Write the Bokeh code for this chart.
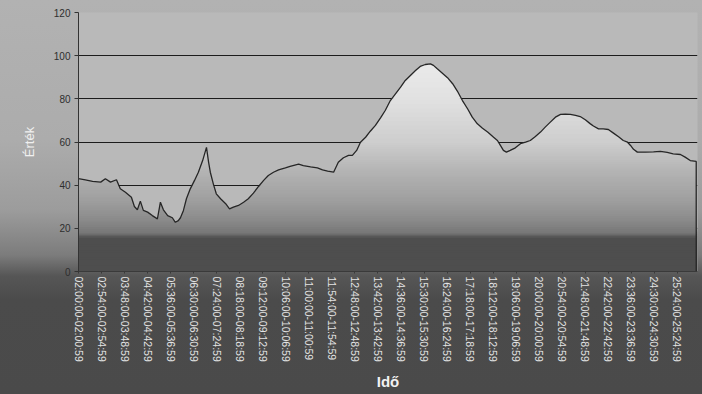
import numpy as np
from bokeh.plotting import figure
from bokeh.models import (Range1d, FixedTicker, BoxAnnotation, InlineStyleSheet)
from bokeh.embed import file_html
from bokeh.resources import INLINE

# Minutes elapsed since 02:00:00 and the measured value at that moment
minutes = [0, 16, 33, 52, 63, 75, 89, 98, 110, 124, 131, 138, 145, 152, 162, 173,
           185, 192, 199, 209, 220, 227, 234, 239, 246, 253, 262, 272, 281, 291,
           300, 305, 309, 316, 323, 333, 345, 354, 363, 375, 387, 398, 410, 422,
           434, 445, 457, 469, 485, 496, 516, 527, 544, 560, 572, 584, 598, 609,
           621, 633, 642, 652, 661, 673, 684, 696, 708, 719, 731, 743, 755, 766,
           778, 790, 801, 813, 825, 832, 841, 853, 865, 877, 888, 900, 912, 923,
           935, 947, 959, 973, 982, 989, 996, 1003, 1012, 1024, 1036, 1048, 1059,
           1071, 1083, 1094, 1106, 1118, 1130, 1141, 1153, 1165, 1176, 1188, 1200,
           1207, 1219, 1230, 1242, 1254, 1266, 1277, 1287, 1294, 1301, 1310, 1329,
           1348, 1364, 1380, 1394, 1411, 1422, 1434, 1448]
values = [43.0, 42.5, 41.8, 41.4, 43.0, 41.4, 42.5, 38.3, 36.7, 34.4, 30.1, 28.6,
          32.6, 28.3, 27.5, 25.9, 24.4, 32.1, 28.6, 25.9, 24.9, 22.8, 23.6, 24.9,
          28.3, 33.7, 38.3, 42.2, 46.0, 51.4, 57.5, 50.6, 46.0, 40.6, 36.0, 33.7,
          31.4, 29.0, 29.8, 30.6, 32.1, 33.7, 36.3, 39.4, 42.2, 44.5, 46.0, 47.1,
          48.0, 48.7, 49.8, 49.1, 48.5, 48.0, 47.1, 46.5, 46.0, 50.6, 52.7, 53.8,
          53.8, 56.1, 59.9, 62.2, 65.0, 67.7, 71.2, 74.6, 79.2, 82.3, 85.4, 88.5,
          90.8, 93.1, 95.0, 95.9, 96.2, 95.5, 93.9, 91.9, 89.8, 87.0, 83.6, 79.2,
          75.4, 71.5, 68.4, 66.4, 64.6, 62.2, 60.7, 58.4, 56.1, 55.3, 56.1, 57.3,
          59.2, 59.9, 60.7, 62.6, 64.6, 66.9, 69.2, 71.5, 72.8, 72.9, 72.8, 72.3,
          71.8, 70.3, 68.4, 67.4, 66.1, 66.1, 65.8, 64.1, 62.4, 60.7, 59.9, 58.4,
          56.6, 55.3, 55.3, 55.4, 55.7, 55.2, 54.5, 54.2, 53.0, 51.4, 51.0]

# Category labels, one every 54 minutes
tick_minutes = list(range(0, 1405, 54))
tick_labels = ["02:00:00-02:00:59", "02:54:00-02:54:59", "03:48:00-03:48:59",
               "04:42:00-04:42:59", "05:36:00-05:36:59", "06:30:00-06:30:59",
               "07:24:00-07:24:59", "08:18:00-08:18:59", "09:12:00-09:12:59",
               "10:06:00-10:06:59", "11:00:00-11:00:59", "11:54:00-11:54:59",
               "12:48:00-12:48:59", "13:42:00-13:42:59", "14:36:00-14:36:59",
               "15:30:00-15:30:59", "16:24:00-16:24:59", "17:18:00-17:18:59",
               "18:12:00-18:12:59", "19:06:00-19:06:59", "20:00:00-20:00:59",
               "20:54:00-20:54:59", "21:48:00-21:48:59", "22:42:00-22:42:59",
               "23:36:00-23:36:59", "24:30:00-24:30:59", "25:24:00-25:24:59"]
y_ticks = [0, 20, 40, 60, 80, 100, 120]

x = np.array(minutes, dtype=float)
v = np.array(values, dtype=float)

p = figure(width=702, height=394, output_backend="svg", toolbar_location=None,
           x_range=Range1d(0, 1451), y_range=Range1d(0, 120),
           min_border_left=78, min_border_right=5, min_border_top=12,
           min_border_bottom=123)

p.border_fill_color = None
p.background_fill_color = "#b9b9b9"
p.outline_line_color = None
p.stylesheets = [InlineStyleSheet(css=(
    ":host { background: linear-gradient(to bottom, #b2b2b2 0px, #acacac 140px,"
    " #9c9c9c 210px, #7c7c7c 255px, #565656 276px, #4b4b4b 300px, #4a4a4a 394px); }"))]

# dark floor band of the plotting area
floor = [(0, 16.5, "#4c4c4c"), (16.5, 17.5, "#585858"), (17.5, 18.5, "#6a6a6a"),
         (18.5, 19.5, "#808080"), (19.5, 20.5, "#969696"), (20.5, 22, "#aaaaaa")]
for lo, hi, col in floor:
    p.add_layout(BoxAnnotation(bottom=lo, top=hi, fill_color=col, fill_alpha=1.0,
                               line_color=None, level="underlay"))

# area under the curve, shaded in thin horizontal bands (light top, dark bottom)
stops_v = [0, 16, 18, 24, 33, 47, 60, 80, 100, 120]
stops_g = [78, 78, 118, 138, 158, 180, 205, 225, 236, 240]
band = 1.0
for lo in np.arange(0, 100, band):
    hi = lo + band
    g = int(round(np.interp(lo + band / 2, stops_v, stops_g)))
    col = "#%02x%02x%02x" % (g, g, g)
    y1 = np.minimum(v, max(lo - 0.35, 0))
    y2 = np.minimum(v, hi)
    p.varea(x=x, y1=y1, y2=y2, fill_color=col, fill_alpha=1.0)

# outline of the series, closed down to the axis at the last sample
p.line(x=np.append(x, x[-1]), y=np.append(v, 0), line_color="#262626", line_width=1.3)

# axes
p.xgrid.grid_line_color = None
p.ygrid.grid_line_color = "#1c1c1c"
p.ygrid.grid_line_width = 1
p.ygrid.ticker = FixedTicker(ticks=[20, 40, 60, 80, 100])

xa = p.xaxis[0]
xa.ticker = FixedTicker(ticks=tick_minutes)
xa.major_label_overrides = {t: s for t, s in zip(tick_minutes, tick_labels)}
xa.major_label_orientation = "vertical"
xa.major_label_text_font = "Liberation Sans"
xa.major_label_text_font_size = "10.5px"
xa.major_label_text_color = "#e4e4e4"
xa.major_label_standoff = 3
xa.major_tick_out = 2
xa.major_tick_in = 0
xa.minor_tick_out = 0
xa.minor_tick_in = 0
xa.axis_line_color = "#3a3a3a"
xa.major_tick_line_color = "#3a3a3a"
xa.axis_label = "Idő"
xa.axis_label_text_font = "Liberation Sans"
xa.axis_label_text_font_size = "15px"
xa.axis_label_text_font_style = "bold"
xa.axis_label_text_color = "#f2f2f2"
xa.axis_label_standoff = 8

ya = p.yaxis[0]
ya.ticker = FixedTicker(ticks=y_ticks)
ya.major_label_text_font = "Liberation Sans"
ya.major_label_text_font_size = "10px"
ya.major_label_text_color = "#2e2e2e"
ya.major_label_standoff = 4
ya.major_tick_out = 4
ya.major_tick_in = 0
ya.minor_tick_out = 0
ya.minor_tick_in = 0
ya.axis_line_color = "#333333"
ya.major_tick_line_color = "#333333"
ya.axis_label = "Érték"
ya.axis_label_text_font = "Liberation Sans"
ya.axis_label_text_font_size = "13px"
ya.axis_label_text_font_style = "normal"
ya.axis_label_text_color = "#f0f0f0"
ya.axis_label_standoff = 14

open("out.html", "w").write(file_html(p, INLINE))
